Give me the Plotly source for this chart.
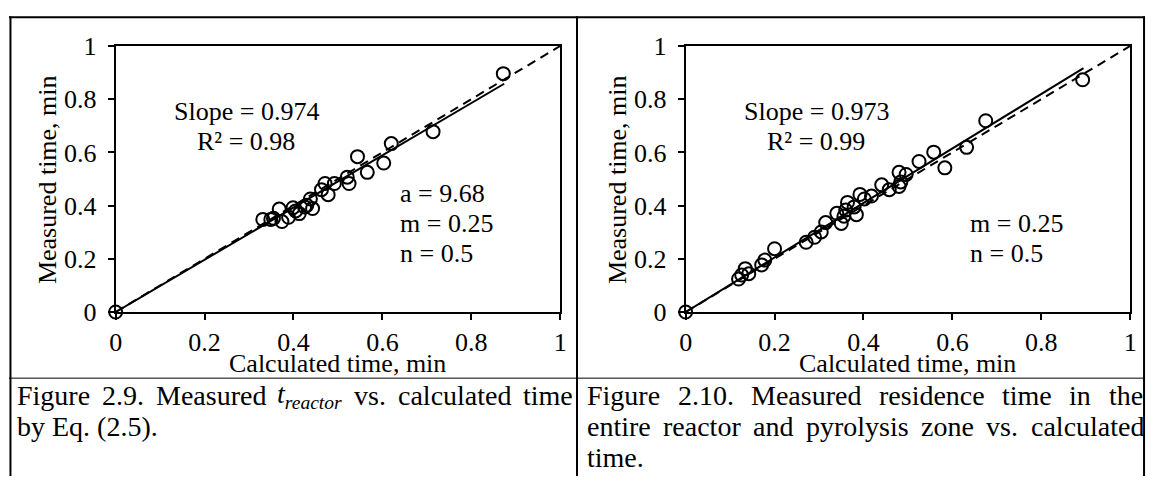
import plotly.graph_objects as go

W, H = 1154, 491

# ---------------- data ----------------
left_calc = [0.0, 0.331, 0.349, 0.355, 0.368, 0.374, 0.389, 0.399, 0.405, 0.413, 0.425, 0.430,
             0.438, 0.443, 0.463, 0.471, 0.478, 0.492, 0.521, 0.525, 0.544, 0.566, 0.603,
             0.620, 0.714, 0.872]
left_meas = [0.0, 0.348, 0.348, 0.352, 0.387, 0.340, 0.356, 0.392, 0.380, 0.370, 0.395, 0.401,
             0.425, 0.389, 0.460, 0.483, 0.441, 0.483, 0.507, 0.483, 0.584, 0.525, 0.560,
             0.633, 0.678, 0.896]

right_calc = [0.0, 0.119, 0.126, 0.134, 0.142, 0.171, 0.178, 0.200, 0.271, 0.290, 0.305,
              0.315, 0.340, 0.350, 0.356, 0.360, 0.364, 0.379, 0.384, 0.392, 0.402, 0.418,
              0.441, 0.458, 0.480, 0.480, 0.484, 0.496, 0.525, 0.558, 0.583, 0.632, 0.675,
              0.893]
right_meas = [0.0, 0.124, 0.139, 0.163, 0.144, 0.177, 0.195, 0.238, 0.262, 0.281, 0.301,
              0.336, 0.371, 0.333, 0.360, 0.383, 0.412, 0.395, 0.366, 0.442, 0.425, 0.436,
              0.478, 0.460, 0.525, 0.472, 0.489, 0.517, 0.566, 0.601, 0.542, 0.619, 0.719,
              0.873]

# fitted lines (end points)
left_fit_x = [0.0, 0.874]
left_fit_y = [0.0, 0.858]
right_fit_x = [0.0, 0.895]
right_fit_y = [0.0, 0.917]

# 1:1 reference line
parity_x = [0.0, 1.0]
parity_y = [0.0, 1.0]

tick_vals = [0, 0.2, 0.4, 0.6, 0.8, 1.0]
tick_text = ["0", "0.2", "0.4", "0.6", "0.8", "1"]

x_title = "Calculated time, min"
y_title = "Measured time, min"
left_stats = ["Slope = 0.974", "R² = 0.98"]
left_params = ["a = 9.68", "m = 0.25", "n = 0.5"]
right_stats = ["Slope = 0.973", "R² = 0.99"]
right_params = ["m = 0.25", "n = 0.5"]

# ---------------- helpers ----------------
FONT = "Liberation Serif, Times New Roman, serif"
FS = 26
CAP_FS = 28


def px(x):
    return x / W


def py(y):
    return 1 - y / H


TW = {' ': 250, '!': 333, '(': 333, ')': 333, ',': 250, '-': 333, '.': 250, '=': 564,
      'A': 722, 'B': 667, 'C': 667, 'D': 722, 'E': 611, 'F': 556, 'G': 722, 'H': 722,
      'I': 333, 'M': 889, 'R': 667, 'S': 556, 'T': 611,
      'a': 444, 'b': 500, 'c': 444, 'd': 500, 'e': 444, 'f': 333, 'g': 500, 'h': 500,
      'i': 278, 'j': 278, 'k': 500, 'l': 278, 'm': 778, 'n': 500, 'o': 500, 'p': 500,
      'q': 500, 'r': 333, 's': 389, 't': 278, 'u': 500, 'v': 500, 'w': 722, 'x': 500,
      'y': 500, 'z': 444}
TWI = {'t': 278, 'r': 389, 'e': 444, 'a': 500, 'c': 444, 'o': 500}


def tw(s, size, table=TW):
    total = 0
    for ch in s:
        if ch.isdigit():
            total += 500
        else:
            total += table.get(ch, 500)
    return total * size / 1000.0


fig = go.Figure()

# ---------------- traces ----------------
for xa, ya, cx, cy, fx, fy in [("x", "y", left_calc, left_meas, left_fit_x, left_fit_y),
                               ("x2", "y2", right_calc, right_meas, right_fit_x, right_fit_y)]:
    fig.add_trace(go.Scatter(x=parity_x, y=parity_y, mode="lines", xaxis=xa, yaxis=ya,
                             line=dict(color="black", width=2, dash="9px,6px"),
                             showlegend=False, hoverinfo="skip"))
    fig.add_trace(go.Scatter(x=fx, y=fy, mode="lines", xaxis=xa, yaxis=ya,
                             line=dict(color="black", width=2),
                             showlegend=False, hoverinfo="skip"))
    fig.add_trace(go.Scatter(x=cx, y=cy, mode="markers", xaxis=xa, yaxis=ya,
                             marker=dict(symbol="circle-open", size=13, color="black",
                                         line=dict(width=2, color="black")),
                             cliponaxis=False, showlegend=False))

axis_common = dict(range=[0, 1], showline=True, linecolor="black", linewidth=2, mirror=True,
                   ticks="outside", ticklen=6, tickwidth=2, tickcolor="black",
                   tickvals=tick_vals, ticktext=tick_text, showgrid=False, zeroline=False,
                   tickfont=dict(family=FONT, size=FS, color="black"), fixedrange=True)

y_dom = [py(316.7), py(34)]
fig.update_layout(
    width=W, height=H, margin=dict(l=0, r=0, t=0, b=0),
    paper_bgcolor="white", plot_bgcolor="white",
    xaxis=dict(domain=[px(110), px(560)], anchor="y", **axis_common),
    yaxis=dict(domain=y_dom, anchor="x", ticklabelstandoff=6, **axis_common),
    xaxis2=dict(domain=[px(687), px(1137)], anchor="y2", **axis_common),
    yaxis2=dict(domain=y_dom, anchor="x2", ticklabelstandoff=6, **axis_common),
)

ann = []


def text(x, y, s, size=FS, xanchor="center", yanchor="middle", angle=0):
    ann.append(dict(x=px(x), y=py(y), xref="paper", yref="paper", text=s, showarrow=False,
                    xanchor=xanchor, yanchor=yanchor, textangle=angle,
                    font=dict(family=FONT, size=size, color="black")))


# axis titles
for x0 in (110, 687):
    text(x0 + 225, 371, x_title)
    text(x0 - 69, 176, y_title, angle=-90)

# in-plot statistics
for (x0, stats, params) in [(110, left_stats, left_params), (687, right_stats, right_params)]:
    cx = x0 + 132
    for i, s in enumerate(stats):
        text(cx, 104 + 31 * i, s)
    start = 255 - 32 * (len(params) - 1)
    for i, s in enumerate(params):
        text(x0 + 286, start + 32 * i, s, xanchor="left")

# ---------------- captions (justified lines) ----------------


def justified(words, x_left, x_right, y, size=CAP_FS):
    widths = [w[1] for w in words]
    gap = (x_right - x_left - sum(widths)) / (len(words) - 1)
    x = x_left
    for (html, wdt) in words:
        text(x, y, html, size=size, xanchor="left")
        x += wdt + gap


def plain(s, size=CAP_FS):
    return [(w, tw(w, size)) for w in s.split(" ")]


cap_left_1 = plain("Figure 2.9. Measured", CAP_FS)
treactor_w = tw("t", CAP_FS, TWI) + 0.7 * tw("reactor", CAP_FS, TWI)
cap_left_1.append(("<i>t</i><sub><i>reactor</i></sub>", treactor_w))
cap_left_1 += plain("vs. calculated time", CAP_FS)

justified(cap_left_1, 8, 570, 405)
text(8, 438, "by Eq. (2.5).", size=CAP_FS, xanchor="left")

justified(plain("Figure 2.10. Measured residence time in the"), 585, 1148, 405)
justified(plain("entire reactor and pyrolysis zone vs. calculated"), 585, 1148, 438)
text(585, 471, "time.", size=CAP_FS, xanchor="left")

fig.update_layout(annotations=ann)

# ---------------- table borders ----------------
shapes = []


def hline(x0, x1, y, w=2):
    shapes.append(dict(type="line", xref="paper", yref="paper", x0=px(x0), x1=px(x1),
                       y0=py(y), y1=py(y), line=dict(color="black", width=w)))


def vline(x, y0, y1, w=2):
    shapes.append(dict(type="line", xref="paper", yref="paper", x0=px(x), x1=px(x),
                       y0=py(y0), y1=py(y1), line=dict(color="black", width=w)))


hline(2, 1152, 3.5, 2)
hline(2, 1152, 387, 1)
vline(3.5, 2.5, 491, 2)
vline(577, 2.5, 491, 2)
vline(1151, 2.5, 491, 2)
fig.update_layout(shapes=shapes)

fig.write_html("out.html",
               post_script="document.body.style.margin='0';document.body.style.padding='0';")
